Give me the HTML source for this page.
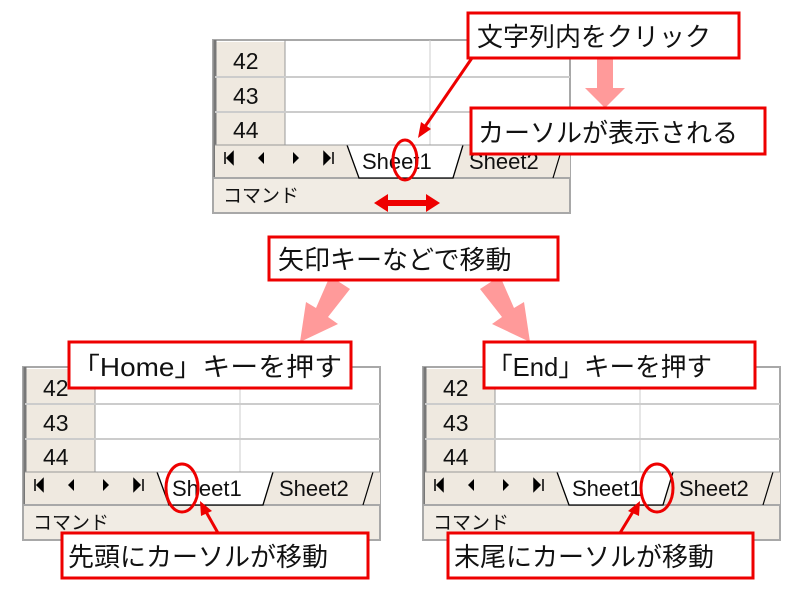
<!DOCTYPE html>
<html><head><meta charset="utf-8"><style>
html,body{margin:0;padding:0;background:#fff;}
svg text{font-family:"Liberation Sans","Noto Sans CJK JP",sans-serif;}
.c{font-size:26px;fill:#111;}
.n{font-size:23px;fill:#111;}
.s{font-size:22px;fill:#111;}
.t{font-size:19px;fill:#111;}
</style></head><body>
<svg width="800" height="590" viewBox="0 0 800 590" xmlns="http://www.w3.org/2000/svg">
<defs>
<g id="win">
  <rect x="0" y="0" width="357" height="173" fill="#fff" stroke="#a8a8a8" stroke-width="2"/>
  <rect x="2" y="2" width="70" height="103" fill="#efe9e0"/>
  <line x1="2" y1="0" x2="2" y2="137" stroke="#777" stroke-width="3"/>
  <line x1="72" y1="0" x2="72" y2="105" stroke="#999"/>
  <line x1="217" y1="0" x2="217" y2="105" stroke="#ccc"/>
  <line x1="2" y1="37" x2="357" y2="37" stroke="#ccc" stroke-width="2"/>
  <line x1="2" y1="72" x2="357" y2="72" stroke="#ccc" stroke-width="2"/>
  <text class="n" x="20" y="29">42</text>
  <text class="n" x="20" y="64">43</text>
  <text class="n" x="20" y="98">44</text>
  <rect x="2" y="105" width="355" height="33" fill="#efe9e0"/>
  <rect x="0" y="138" width="357" height="35" fill="#f1ece4" stroke="#a8a8a8" stroke-width="2"/>
  <text class="t" x="10" y="162">コマンド</text>
  <path d="M12 112v12M14 118l6-6v12z" fill="#000" stroke="#000" stroke-width="1.5"/>
  <path d="M51 112l-6 6 6 6z" fill="#000"/>
  <path d="M80 112l6 6-6 6z" fill="#000"/>
  <path d="M111 112l6 6-6 6zM120 112v12" fill="#000" stroke="#000" stroke-width="1.5"/>
  <path d="M134 105l12 33h94l10-33" fill="#fff" stroke="#000" stroke-width="1.3"/>
  <path d="M340 138l10-33" fill="none" stroke="#000" stroke-width="1.2"/>
  <line x1="2" y1="105" x2="357" y2="105" stroke="#999"/>
  <text class="s" x="149" y="129">Sheet1</text>
  <text class="s" x="256" y="129">Sheet2</text>
</g>
</defs>

<use href="#win" x="213" y="40"/>
<use href="#win" x="23" y="367"/>
<use href="#win" x="423" y="367"/>

<!-- pink arrows -->
<path d="M597 58h16v30h12l-20 20-20-20h12z" fill="#ff9a9a"/>
<path d="M330 276l20 13-22 28 10 7-38 18 6-40 10 6z" fill="#ff9a9a"/>
<path d="M500 276l-20 13 22 28-10 7 38 18-6-40-10 6z" fill="#ff9a9a"/>

<!-- red annotations -->
<ellipse cx="405" cy="160" rx="12" ry="20" fill="none" stroke="#e00" stroke-width="3"/>
<ellipse cx="182" cy="488" rx="16" ry="24" fill="none" stroke="#e00" stroke-width="3"/>
<ellipse cx="657" cy="488" rx="16" ry="24" fill="none" stroke="#e00" stroke-width="3"/>
<line x1="472" y1="58" x2="424" y2="128" stroke="#e00" stroke-width="3"/>
<path d="M418 138l3-16 10 7z" fill="#e00"/>
<path d="M374 203l14-9v6h38v-6l14 9-14 9v-6h-38v6z" fill="#e00"/>
<line x1="218" y1="533" x2="205" y2="510" stroke="#e00" stroke-width="3"/>
<path d="M200 501l12 10-11 5z" fill="#e00"/>
<line x1="620" y1="533" x2="634" y2="510" stroke="#e00" stroke-width="3"/>
<path d="M640 501l-1 15-11-5z" fill="#e00"/>

<!-- callouts -->
<rect x="468" y="13" width="271" height="45" fill="#fff" stroke="#e00" stroke-width="3"/>
<text class="c" x="477" y="46">文字列内をクリック</text>
<rect x="471" y="108" width="294" height="46" fill="#fff" stroke="#e00" stroke-width="3"/>
<text class="c" x="478" y="142">カーソルが表示される</text>
<rect x="269" y="237" width="289" height="43" fill="#fff" stroke="#e00" stroke-width="3"/>
<text class="c" x="278" y="269">矢印キーなどで移動</text>
<rect x="69" y="342" width="282" height="46" fill="#fff" stroke="#e00" stroke-width="3"/>
<text class="c" x="72" y="376" textLength="270" lengthAdjust="spacingAndGlyphs">「Home」キーを押す</text>
<rect x="484" y="342" width="271" height="46" fill="#fff" stroke="#e00" stroke-width="3"/>
<text class="c" x="487" y="376" textLength="225" lengthAdjust="spacingAndGlyphs">「End」キーを押す</text>
<rect x="62" y="533" width="306" height="45" fill="#fff" stroke="#e00" stroke-width="3"/>
<text class="c" x="68" y="566">先頭にカーソルが移動</text>
<rect x="448" y="533" width="305" height="45" fill="#fff" stroke="#e00" stroke-width="3"/>
<text class="c" x="454" y="566">末尾にカーソルが移動</text>
</svg>
</body></html>
